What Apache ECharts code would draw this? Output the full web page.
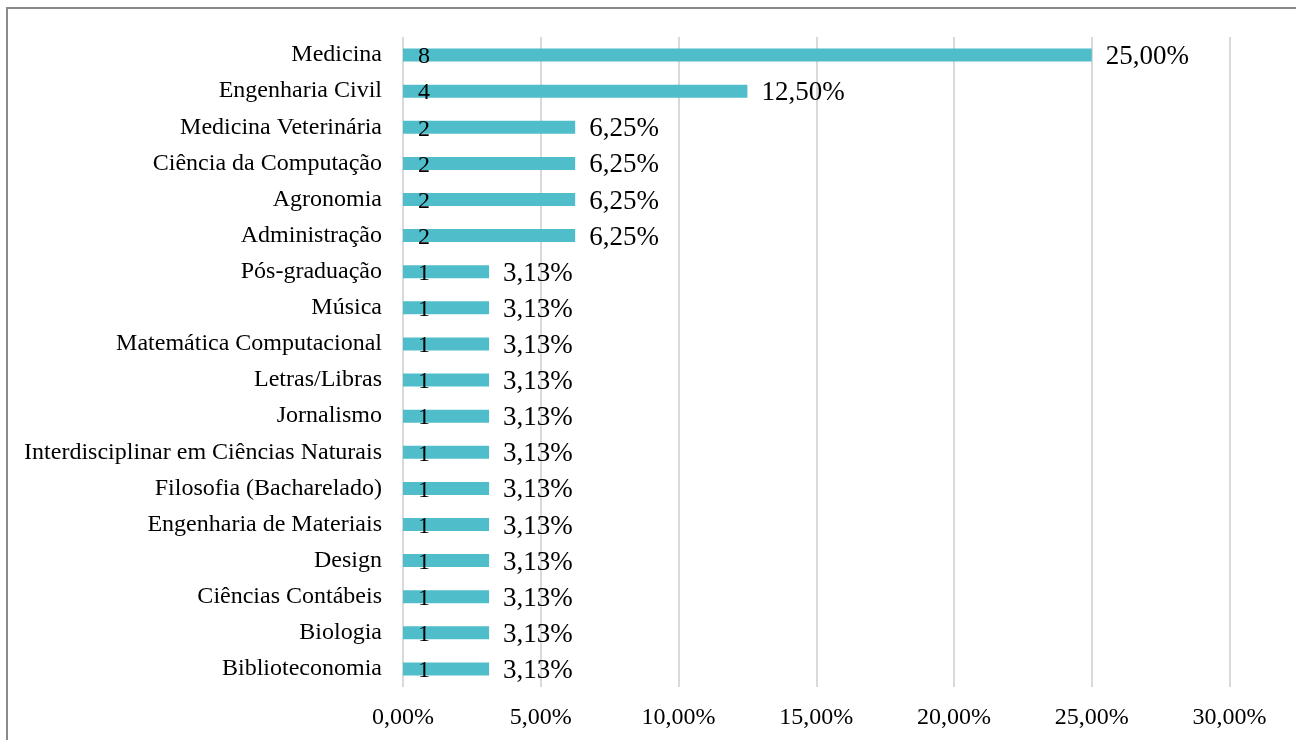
<!DOCTYPE html>
<html>
<head>
<meta charset="utf-8">
<script src="https://cdn.jsdelivr.net/npm/echarts@6/dist/echarts.min.js"></script>
<style>
html,body{margin:0;padding:0;background:#fff;}
#frame{position:absolute;left:6px;top:7px;width:1400px;height:800px;border:2px solid #8a8a8a;box-sizing:border-box;}
#chart{position:absolute;left:0;top:0;width:1296px;height:740px;}
</style>
</head>
<body>
<div id="frame"></div>
<div id="chart"></div>
<script>
const categories = ["Medicina","Engenharia Civil","Medicina Veterinária","Ciência da Computação","Agronomia","Administração","Pós-graduação","Música","Matemática Computacional","Letras/Libras","Jornalismo","Interdisciplinar em Ciências Naturais","Filosofia (Bacharelado)","Engenharia de Materiais","Design","Ciências Contábeis","Biologia","Biblioteconomia"];
const counts = [8,4,2,2,2,2,1,1,1,1,1,1,1,1,1,1,1,1];
const percents = [25,12.5,6.25,6.25,6.25,6.25,3.125,3.125,3.125,3.125,3.125,3.125,3.125,3.125,3.125,3.125,3.125,3.125];
const percentLabels = ["25,00%","12,50%","6,25%","6,25%","6,25%","6,25%","3,13%","3,13%","3,13%","3,13%","3,13%","3,13%","3,13%","3,13%","3,13%","3,13%","3,13%","3,13%"];
const xTicks = {0:"0,00%",5:"5,00%",10:"10,00%",15:"15,00%",20:"20,00%",25:"25,00%",30:"30,00%"};

const font = "'Liberation Serif','Times New Roman',serif";
const chart = echarts.init(document.getElementById('chart'), null, {renderer:'canvas'});
chart.setOption({
  animation:false,
  grid:{left:403,right:66.5,top:37,bottom:53,containLabel:false},
  xAxis:{type:'value',min:0,max:30,interval:5,
    axisLine:{show:false},axisTick:{show:false},
    splitLine:{show:true,lineStyle:{color:'#d9d9d9',width:2}},
    axisLabel:{color:'#000',fontFamily:font,fontSize:24,margin:19,formatter:v=>xTicks[v]}},
  yAxis:{type:'category',data:categories,inverse:true,
    axisLine:{show:false},axisTick:{show:false},
    axisLabel:{color:'#000',fontFamily:font,fontSize:24,margin:21,padding:[4,0,0,0]}},
  series:[
    {type:'bar',data:percents,barWidth:'36%',itemStyle:{color:'#4FBECA'},
      label:{show:true,position:'right',distance:14,offset:[0,2],color:'#000',fontFamily:font,fontSize:27,
        formatter:p=>percentLabels[p.dataIndex]}},
    {type:'bar',data:percents,barWidth:'36%',barGap:'-100%',silent:true,
      itemStyle:{color:'rgba(0,0,0,0)'},
      label:{show:true,position:'insideLeft',distance:15,offset:[0,2],color:'#000',fontFamily:font,fontSize:24,
        formatter:p=>String(counts[p.dataIndex])}}
  ]
});
</script>
</body>
</html>
